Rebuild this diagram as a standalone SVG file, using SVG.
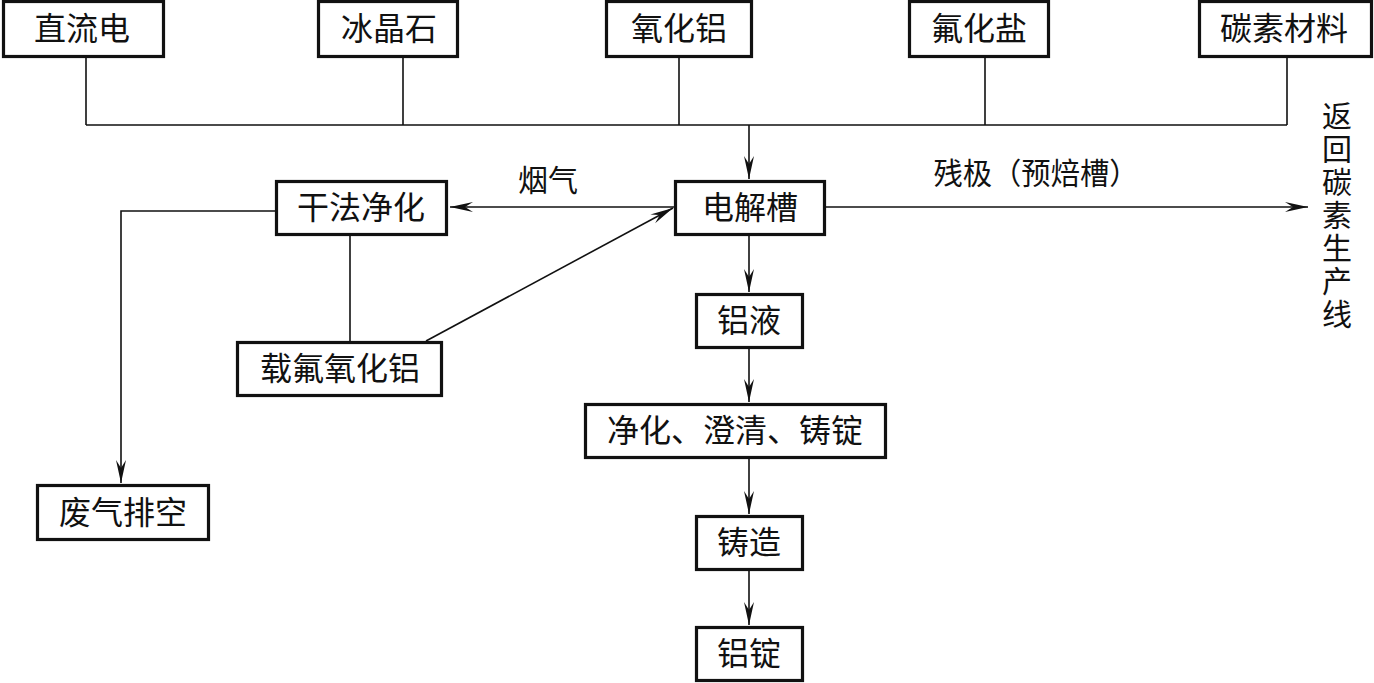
<svg xmlns="http://www.w3.org/2000/svg" width="1374" height="683" viewBox="0 0 1374 683">
<style>
.box{fill:#fff;stroke:#111;stroke-width:3.2}
.ln{fill:none;stroke:#111;stroke-width:1.6}
.ar{marker-end:url(#arr)}
text{font-family:"Noto Sans CJK SC","Noto Sans CJK JP",sans-serif;font-size:32px;fill:#111;text-anchor:middle}
.lbl{font-size:30px}
.vt{font-size:30px;writing-mode:vertical-rl;text-anchor:start;letter-spacing:3px}
</style>
<defs>
<marker id="arr" markerUnits="userSpaceOnUse" markerWidth="30" markerHeight="14" viewBox="-24 -7 26 14" refX="0" refY="0" orient="auto">
<path d="M0,0 L-23,-5 L-15,0 L-23,5 Z" fill="#111"/>
</marker>
</defs>
<rect width="1374" height="683" fill="#fff"/>
<g id="connectors">
<path class="ln" d="M86,57 V125 M403,57 V125 M679,57 V125 M985,57 V125 M1287,57 V125 M86,125 H1287"/>
<path class="ln ar" d="M749,125 V179"/>
<path class="ln ar" d="M674,207 H450"/>
<path class="ln ar" d="M826,207 H1308"/>
<path class="ln ar" d="M275,211 H121 V483"/>
<path class="ln" d="M350,236 V341"/>
<path class="ln ar" d="M426,341 L673,208"/>
<path class="ln ar" d="M749,236 V292"/>
<path class="ln ar" d="M749,349 V402"/>
<path class="ln ar" d="M749,459 V514"/>
<path class="ln ar" d="M749,571 V625"/>
<text class="lbl" x="548" y="191">烟气</text>
<text class="lbl" x="1036" y="184" textLength="205" lengthAdjust="spacingAndGlyphs">残极（预焙槽）</text>
</g>
<g id="n-zhiliudian"><rect class="box" x="3.5" y="1.5" width="160" height="55"/><text x="82" y="40">直流电</text></g>
<g id="n-bingjingshi"><rect class="box" x="318.5" y="1.5" width="139" height="55"/><text x="389" y="40">冰晶石</text></g>
<g id="n-yanghualv"><rect class="box" x="606.5" y="1.5" width="145" height="55"/><text x="679" y="40">氧化铝</text></g>
<g id="n-fuhuayan"><rect class="box" x="909.5" y="1.5" width="139" height="55"/><text x="979" y="40">氟化盐</text></g>
<g id="n-tansucailiao"><rect class="box" x="1199.5" y="1.5" width="172" height="55"/><text x="1284" y="40">碳素材料</text></g>
<g id="n-fanhui"><text class="vt" x="1337" y="101">返回碳素生产线</text></g>
<g id="n-dianjiecao"><rect class="box" x="675.5" y="181.5" width="149" height="53"/><text x="750" y="219">电解槽</text></g>
<g id="n-ganfa"><rect class="box" x="276.5" y="181.5" width="170" height="53"/><text x="361" y="219">干法净化</text></g>
<g id="n-zaifu"><rect class="box" x="237.5" y="342.5" width="204" height="53"/><text x="340" y="380">载氟氧化铝</text></g>
<g id="n-lvye"><rect class="box" x="696.5" y="294.5" width="106" height="53"/><text x="749" y="332">铝液</text></g>
<g id="n-jinghua"><rect class="box" x="585.5" y="404.5" width="300" height="53"/><text x="735" y="442">净化、澄清、铸锭</text></g>
<g id="n-zhuzao"><rect class="box" x="696.5" y="516.5" width="106" height="53"/><text x="749" y="554">铸造</text></g>
<g id="n-lvding"><rect class="box" x="696.5" y="627.5" width="106" height="53"/><text x="749" y="665">铝锭</text></g>
<g id="n-feiqi"><rect class="box" x="37.5" y="485.5" width="171" height="54"/><text x="123" y="524">废气排空</text></g>
</svg>
